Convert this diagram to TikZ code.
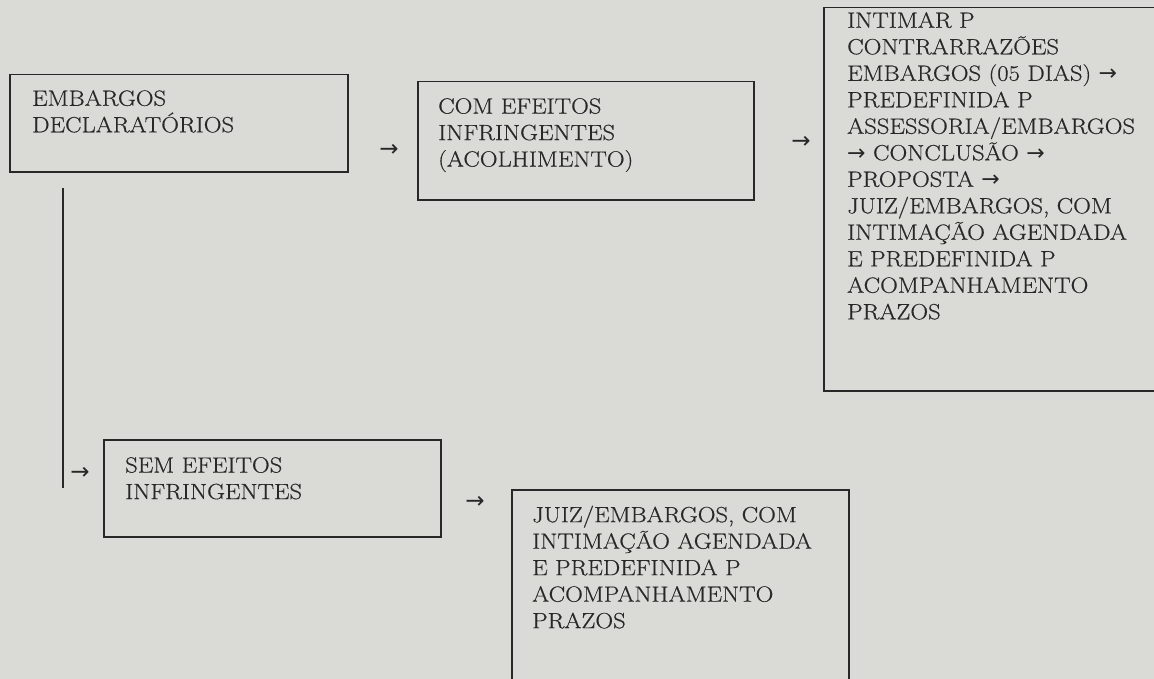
\documentclass[tikz,border=0pt]{standalone}
\usepackage{fontspec}
\setmainfont{Latin Modern Roman}[FakeStretch=1.12,FakeBold=0.5]
\newfontfamily\arrowfont{DejaVu Sans}
\newcommand{\myarr}{{\arrowfont →}}
\definecolor{paper}{RGB}{218,218,215}
\definecolor{ink}{RGB}{40,40,40}
\tikzset{
  boxnode/.style={draw=ink, line width=1.5bp, rectangle, inner sep=0pt, anchor=north west},
  txt/.style={anchor=north west, align=left, inner sep=0pt, text=ink, font=\fontsize{22bp}{26.5bp}\selectfont},
  arrowglyph/.style={inner sep=0pt, text=ink, font=\fontsize{23bp}{26bp}\selectfont},
  conn/.style={draw=ink, line width=1.5bp}
}
\begin{document}
\begin{tikzpicture}[x=1bp,y=-1bp]
\fill[paper] (0,0) rectangle (1154,679);
\useasboundingbox (0,0) rectangle (1154,679);
\clip (0,0) rectangle (1154,679);
% boxes
\node[boxnode, minimum width=338bp, minimum height=97bp] (A) at (9,74) {};
\node[boxnode, minimum width=336bp, minimum height=118bp] (B) at (417,81) {};
\node[boxnode, minimum width=340bp, minimum height=383bp] (C) at (823,7) {};
\node[boxnode, minimum width=337bp, minimum height=97bp] (D) at (103,439) {};
\node[boxnode, minimum width=337bp, minimum height=210bp] (E) at (511,489) {};
% texts
\node[txt] (tA) at (32,90) {EMBARGOS\\DECLARATÓRIOS};
\node[txt] (tB) at (438,98) {COM EFEITOS\\INFRINGENTES\\(ACOLHIMENTO)};
\node[txt] (tC) at (847,12) {INTIMAR P\\CONTRARRAZÕES\\EMBARGOS (05 DIAS) \myarr\\PREDEFINIDA P\\ASSESSORIA/EMBARGOS\\\myarr{} CONCLUSÃO \myarr\\PROPOSTA \myarr\\JUIZ/EMBARGOS, COM\\INTIMAÇÃO AGENDADA\\E PREDEFINIDA P\\ACOMPANHAMENTO\\PRAZOS};
\node[txt] (tD) at (125,457) {SEM EFEITOS\\INFRINGENTES};
\node[txt] (tE) at (532,505.5) {JUIZ/EMBARGOS, COM\\INTIMAÇÃO AGENDADA\\E PREDEFINIDA P\\ACOMPANHAMENTO\\PRAZOS};
% arrow glyphs
\node[arrowglyph] (a1) at (389,150) {\myarr};
\node[arrowglyph] (a2) at (801,142) {\myarr};
\node[arrowglyph] (a3) at (80,473) {\myarr};
\node[arrowglyph] (a4) at (475,502) {\myarr};
% vertical connector
\coordinate (vtop) at (63,188);
\coordinate (vbot) at (63,488);
\draw[conn] (vtop) -- (vbot);
\end{tikzpicture}
\end{document}
